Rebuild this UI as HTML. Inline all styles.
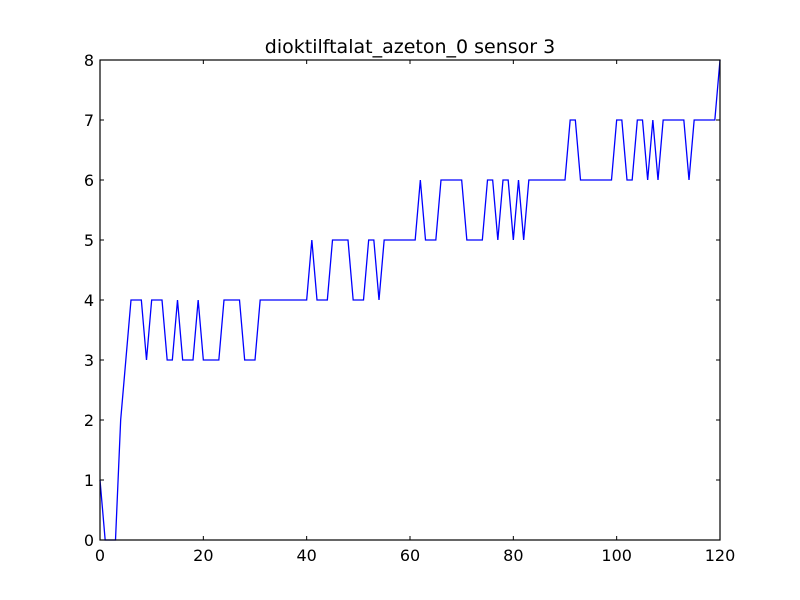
<!DOCTYPE html>
<html><head><meta charset="utf-8"><style>
html,body{margin:0;padding:0;background:#fff;}
svg{display:block;font-family:"DejaVu Sans","Liberation Sans",sans-serif;}
</style></head><body>
<svg id="chart" width="800" height="600">
<rect width="800" height="600" fill="#fff"/>
<text x="410" y="53" text-anchor="middle" font-size="19">dioktilftalat_azeton_0 sensor 3</text>
<g id="ticks"></g>
<polyline id="series" fill="none" stroke="#0000ff" stroke-width="1.3"/>
<rect x="100" y="60" width="620" height="480" fill="none" stroke="#000" stroke-width="1.2"/>
</svg>
<script>
const values = [1,0,0,0,2,3,4,4,4,3,4,4,4,3,3,4,3,3,3,4,3,3,3,3,4,4,4,4,3,3,3,4,4,4,4,4,4,4,4,4,4,5,4,4,4,5,5,5,5,4,4,4,5,5,4,5,5,5,5,5,5,5,6,5,5,5,6,6,6,6,6,5,5,5,5,6,6,5,6,6,5,6,5,6,6,6,6,6,6,6,6,7,7,6,6,6,6,6,6,6,7,7,6,6,7,7,6,7,6,7,7,7,7,7,6,7,7,7,7,7,8];
const xTicks = [0,20,40,60,80,100,120];
const yTicks = [0,1,2,3,4,5,6,7,8];
const X0=100,X1=720,Y0=540,Y1=60,XMAX=120,YMAX=8;
const xs = v => X0 + (X1-X0)*v/XMAX;
const ys = v => Y0 - (Y0-Y1)*v/YMAX;
const NS="http://www.w3.org/2000/svg";
const line=document.getElementById('series');
line.setAttribute('points', values.map((v,i)=>xs(i)+','+ys(v)).join(' '));
const g=document.getElementById('ticks');
function mk(tag,attrs){const e=document.createElementNS(NS,tag);for(const k in attrs)e.setAttribute(k,attrs[k]);g.appendChild(e);return e;}
xTicks.forEach(t=>{
  const x=xs(t);
  const a=mk('line',{x1:x,x2:x,y1:Y0,y2:Y0-4,stroke:'#000'});
  
  
  const b=mk('line',{x1:x,x2:x,y1:Y1,y2:Y1+4,stroke:'#000'});
  
  
  const l=mk('text',{x:x,y:Y0+21,'text-anchor':'middle','font-size':'16'});
  l.textContent=t;
  
  
});
yTicks.forEach(t=>{
  const y=ys(t);
  const a=mk('line',{x1:X0,x2:X0+4,y1:y,y2:y,stroke:'#000'});
  
  
  const b=mk('line',{x1:X1,x2:X1-4,y1:y,y2:y,stroke:'#000'});
  
  
  const l=mk('text',{x:X0-6,y:y+6,'text-anchor':'end','font-size':'16'});
  l.textContent=t;
  
  
});
</script>
</body></html>
